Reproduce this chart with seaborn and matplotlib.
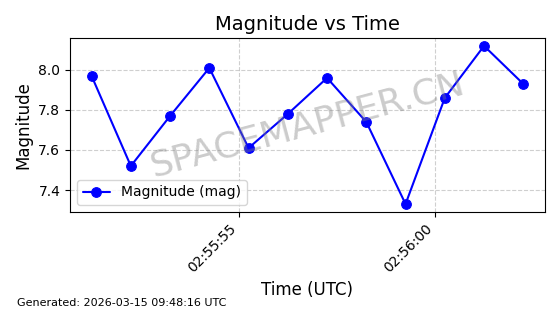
import matplotlib
matplotlib.use("Agg")
import matplotlib.pyplot as plt
import matplotlib.dates as mdates
import seaborn as sns
import pandas as pd

times = pd.to_datetime([
    "2026-03-15 02:55:51.25", "2026-03-15 02:55:52.25", "2026-03-15 02:55:53.25",
    "2026-03-15 02:55:54.25", "2026-03-15 02:55:55.25", "2026-03-15 02:55:56.25",
    "2026-03-15 02:55:57.25", "2026-03-15 02:55:58.25", "2026-03-15 02:55:59.25",
    "2026-03-15 02:56:00.25", "2026-03-15 02:56:01.25", "2026-03-15 02:56:02.25",
])
magnitudes = [7.97, 7.52, 7.77, 8.01, 7.61, 7.78, 7.96, 7.74, 7.33, 7.86, 8.12, 7.93]

df = pd.DataFrame({"time": times, "mag": magnitudes})

sns.set_style("ticks")
plt.rcParams['font.family'] = ['DejaVu Sans']
plt.rcParams.update({"text.color": "black", "axes.labelcolor": "black",
                     "xtick.color": "black", "ytick.color": "black",
                     "axes.edgecolor": "black"})

fig, ax = plt.subplots(figsize=(5.6, 3.14), dpi=100)
fig.subplots_adjust(left=0.125, right=0.973, top=0.879, bottom=0.325)

sns.lineplot(data=df, x="time", y="mag", ax=ax, color="blue", marker="o",
             markersize=7, markeredgecolor="blue", linewidth=1.5,
             label="Magnitude (mag)")

ax.set_title("Magnitude vs Time", fontsize=14, color="black")
ax.set_xlabel("Time (UTC)", fontsize=12)
ax.set_ylabel("Magnitude", fontsize=12)
ax.xaxis.set_major_locator(mdates.SecondLocator(bysecond=range(0, 60, 5)))
ax.xaxis.set_major_formatter(mdates.DateFormatter("%H:%M:%S"))
plt.setp(ax.get_xticklabels(), rotation=45, ha="right")
ax.set_yticks([7.4, 7.6, 7.8, 8.0])
ax.grid(True, linestyle="--", color="#b0b0b0", alpha=0.6)
ax.legend(loc="lower left")

ax.text(0.5, 0.5, "SPACEMAPPER.CN", transform=ax.transAxes, fontsize=26,
        color="gray", alpha=0.4, rotation=15, ha="center", va="center")
fig.text(0.03, 0.025, "Generated: 2026-03-15 09:48:16 UTC", fontsize=8)

fig.savefig("out.png", dpi=100)
